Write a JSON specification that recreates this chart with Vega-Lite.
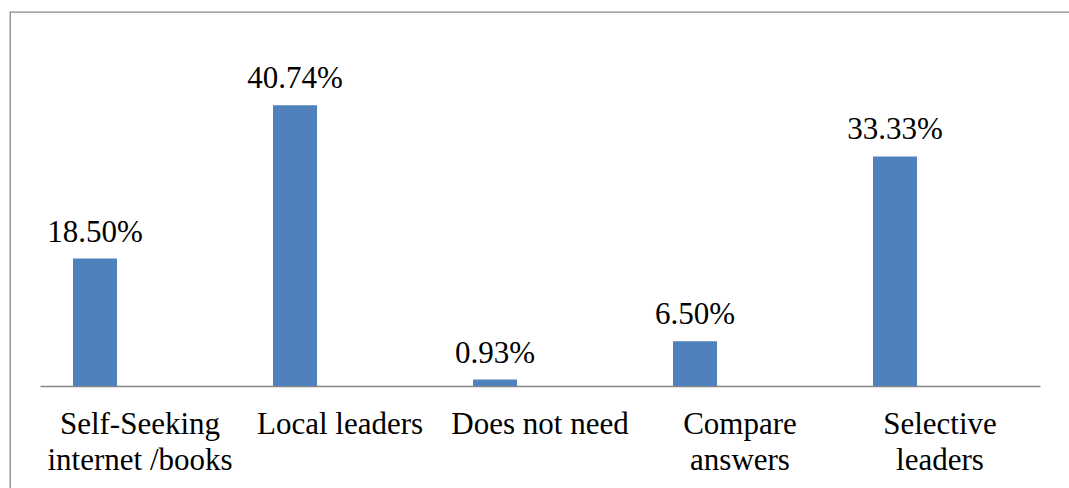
{
  "$schema": "https://vega.github.io/schema/vega-lite/v6.json",
  "width": 1065,
  "height": 490,
  "autosize": "none",
  "padding": {"left": 10, "top": 12, "right": 0, "bottom": 0},
  "background": "white",
  "config": {
    "view": {"stroke": "#868686", "strokeWidth": 1.3},
    "font": "Liberation Serif"
  },
  "data": {
    "values": [
      {"source": "Self-Seeking|internet /books", "share": 0.185},
      {"source": "Local leaders", "share": 0.4074},
      {"source": "Does not need", "share": 0.0093},
      {"source": "Compare|answers", "share": 0.065},
      {"source": "Selective|leaders", "share": 0.3333}
    ]
  },
  "encoding": {
    "x": {
      "field": "source",
      "type": "nominal",
      "sort": null,
      "scale": {"range": [30, 1030], "paddingInner": 0, "paddingOuter": 0},
      "axis": {
        "title": null,
        "orient": "bottom",
        "offset": -116,
        "ticks": false,
        "grid": false,
        "domainColor": "#868686",
        "domainWidth": 1.3,
        "labelAngle": 0,
        "labelFont": "Liberation Serif",
        "labelFontSize": 31,
        "labelColor": "#000000",
        "labelBaseline": "alphabetic",
        "labelPadding": 47,
        "labelLineHeight": 36,
        "labelLimit": 0,
        "labelOverlap": false,
        "labelExpr": "split(datum.label, '|')"
      }
    },
    "y": {
      "field": "share",
      "type": "quantitative",
      "scale": {"domain": [0, 0.45], "range": [374, 64], "nice": false, "zero": true},
      "axis": null
    }
  },
  "layer": [
    {
      "mark": {"type": "bar", "width": 44, "xOffset": -45, "color": "#4F81BD"}
    },
    {
      "mark": {
        "type": "text",
        "xOffset": -45,
        "dy": -17,
        "baseline": "alphabetic",
        "align": "center",
        "font": "Liberation Serif",
        "fontSize": 31,
        "color": "#000000"
      },
      "encoding": {
        "text": {"field": "share", "type": "quantitative", "format": ".2%"}
      }
    }
  ]
}
